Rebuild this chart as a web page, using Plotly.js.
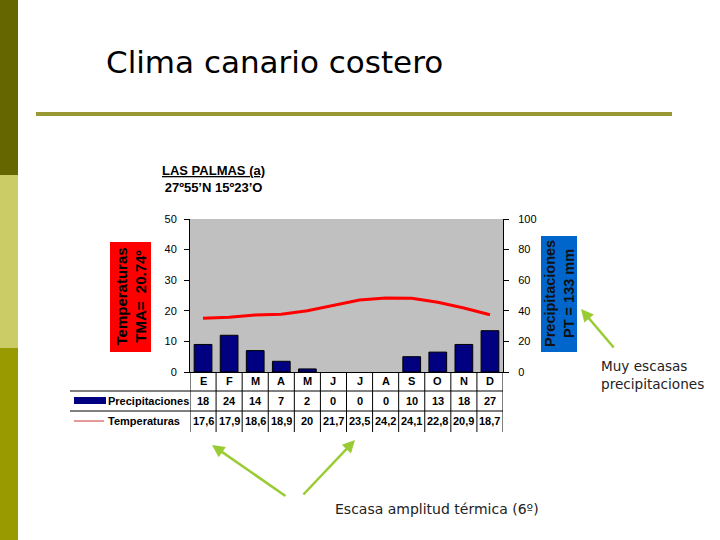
<!DOCTYPE html>
<html>
<head>
<meta charset="utf-8">
<script src="https://cdn.plot.ly/plotly-3.0.1.min.js"></script>
<style>html,body{margin:0;padding:0;background:#fff;}#chart{width:720px;height:540px;}</style>
</head>
<body>
<div id="chart"></div>
<script>
// ---- data ----
const months = ['E','F','M','A','M','J','J','A','S','O','N','D'];
const monthKeys = ['Ene','Feb','Mar','Abr','May','Jun','Jul','Ago','Sep','Oct','Nov','Dic'];
const precipitaciones = [18, 24, 14, 7, 2, 0, 0, 0, 10, 13, 18, 27];
const temperaturas = [17.6, 17.9, 18.6, 18.9, 20, 21.7, 23.5, 24.2, 24.1, 22.8, 20.9, 18.7];
const tempTicks = [0, 10, 20, 30, 40, 50];
const precTicks = [0, 20, 40, 60, 80, 100];

// ---- helpers for pixel -> paper ----
const W = 720, H = 540;
const px = x => x / W;
const py = y => 1 - y / H;

const trPrec = {
  type: 'bar', x: monthKeys, y: precipitaciones, yaxis: 'y2',
  marker: {color: '#000080', line: {color: '#000000', width: precipitaciones.map(v => v > 0 ? 1 : 0)}},
  width: 0.68, hoverinfo: 'y', showlegend: false
};
const trTemp = {
  type: 'scatter', mode: 'lines', x: monthKeys, y: temperaturas, yaxis: 'y',
  line: {color: '#ff0000', width: 3}, showlegend: false
};

const tableFont = {family: 'Liberation Sans, Arial, sans-serif', size: 11, color: '#000'};
const annotations = [];
months.forEach((m, i) => {
  annotations.push({xref: 'x', yref: 'paper', x: i, y: py(381), text: '<b>' + m + '</b>', showarrow: false, font: tableFont, xanchor: 'center', yanchor: 'middle'});
  annotations.push({xref: 'x', yref: 'paper', x: i, y: py(401), text: '<b>' + precipitaciones[i] + '</b>', showarrow: false, font: tableFont, xanchor: 'center', yanchor: 'middle'});
  annotations.push({xref: 'x', yref: 'paper', x: i, y: py(421), text: '<b>' + String(temperaturas[i]).replace('.', ',') + '</b>', showarrow: false, font: tableFont, xanchor: 'center', yanchor: 'middle'});
});
annotations.push(
  {xref: 'paper', yref: 'paper', x: px(106), y: py(401), text: '<b>Precipitaciones</b>', showarrow: false, font: tableFont, xanchor: 'left', yanchor: 'middle'},
  {xref: 'paper', yref: 'paper', x: px(106), y: py(421), text: '<b>Temperaturas</b>', showarrow: false, font: tableFont, xanchor: 'left', yanchor: 'middle'},
  {xref: 'paper', yref: 'paper', x: px(213), y: py(179), text: '<b><u>LAS PALMAS (a)</u></b><br><b>27º55’N 15º23’O</b>', showarrow: false, align: 'center', font: {family: 'Liberation Sans, Arial, sans-serif', size: 13, color: '#000'}, xanchor: 'center', yanchor: 'middle'},
  {xref: 'paper', yref: 'paper', x: px(130.5), y: py(297), text: '<b>Temperaturas<br>TMA=  20.74º</b>', textangle: -90, showarrow: false, align: 'center', font: {family: 'Liberation Sans, Arial, sans-serif', size: 15, color: '#000'}, xanchor: 'center', yanchor: 'middle'},
  {xref: 'paper', yref: 'paper', x: px(559), y: py(294), text: '<b>Precipitaciones<br>PT = 133 mm</b>', textangle: -90, showarrow: false, align: 'center', font: {family: 'Liberation Sans, Arial, sans-serif', size: 14.5, color: '#111'}, xanchor: 'center', yanchor: 'middle'},
  {xref: 'paper', yref: 'paper', x: px(599), y: py(375), text: 'Muy escasas<br>precipitaciones', showarrow: false, align: 'left', font: {family: 'DejaVu Sans, Verdana, sans-serif', size: 13.6, color: '#222'}, xanchor: 'left', yanchor: 'middle'},
  {xref: 'paper', yref: 'paper', x: px(333), y: py(509), text: 'Escasa amplitud térmica (6º)', showarrow: false, font: {family: 'DejaVu Sans, Verdana, sans-serif', size: 14, color: '#222'}, xanchor: 'left', yanchor: 'middle'},
  // arrows
  {xref: 'paper', yref: 'paper', x: px(581), y: py(309), ax: 34, ay: 40, text: '', showarrow: true, arrowhead: 2, arrowsize: 1, arrowwidth: 2.5, arrowcolor: '#99cc33'},
  {xref: 'paper', yref: 'paper', x: px(212), y: py(445), ax: 75, ay: 52, text: '', showarrow: true, arrowhead: 2, arrowsize: 1, arrowwidth: 2.5, arrowcolor: '#99cc33'},
  {xref: 'paper', yref: 'paper', x: px(355), y: py(440), ax: -53, ay: 56, text: '', showarrow: true, arrowhead: 2, arrowsize: 1, arrowwidth: 2.5, arrowcolor: '#99cc33'}
);

const shapes = [
  // left decorative band
  {type: 'rect', xref: 'paper', yref: 'paper', x0: 0, x1: px(18), y0: py(0), y1: py(175), fillcolor: '#666600', line: {width: 0}, layer: 'below'},
  {type: 'rect', xref: 'paper', yref: 'paper', x0: 0, x1: px(18), y0: py(175), y1: py(348), fillcolor: '#cccc66', line: {width: 0}, layer: 'below'},
  {type: 'rect', xref: 'paper', yref: 'paper', x0: 0, x1: px(18), y0: py(348), y1: py(540), fillcolor: '#999900', line: {width: 0}, layer: 'below'},
  // title underline
  {type: 'line', xref: 'paper', yref: 'paper', x0: px(36), x1: px(672), y0: py(114), y1: py(114), line: {color: '#999933', width: 4}},
  // axis title boxes
  {type: 'rect', xref: 'paper', yref: 'paper', x0: px(110), x1: px(151), y0: py(242), y1: py(352), fillcolor: '#ff0000', line: {width: 0}, layer: 'below'},
  {type: 'rect', xref: 'paper', yref: 'paper', x0: px(541), x1: px(577), y0: py(236), y1: py(352), fillcolor: '#0066cc', line: {width: 0}, layer: 'below'},
  // table horizontal lines
  {type: 'line', xref: 'paper', yref: 'paper', x0: px(70), x1: px(503), y0: py(391), y1: py(391), line: {color: '#000', width: 1}},
  {type: 'line', xref: 'paper', yref: 'paper', x0: px(70), x1: px(503), y0: py(411), y1: py(411), line: {color: '#000', width: 1}},
  // legend swatches
  {type: 'rect', xref: 'paper', yref: 'paper', x0: px(74), x1: px(106), y0: py(397), y1: py(404), fillcolor: '#000080', line: {width: 0}},
  {type: 'line', xref: 'paper', yref: 'paper', x0: px(74), x1: px(104), y0: py(421), y1: py(421), line: {color: '#cc3333', width: 1}}
];
for (let i = 0; i <= months.length; i++) {
  shapes.push({type: 'line', xref: 'x', yref: 'paper', x0: i - 0.5, x1: i - 0.5, y0: py(372), y1: py(432), line: {color: '#000', width: 1}});
}

const tickFont = {family: 'Liberation Sans, Arial, sans-serif', size: 11, color: '#000'};
const layout = {
  width: W, height: H,
  margin: {l: 0, r: 0, t: 0, b: 0},
  paper_bgcolor: '#ffffff',
  plot_bgcolor: '#c0c0c0',
  title: {text: 'Clima canario costero', x: px(106), xanchor: 'left', xref: 'paper', y: py(62), yref: 'container', yanchor: 'middle', font: {family: 'DejaVu Sans, Verdana, sans-serif', size: 31, color: '#000'}},
  showlegend: false,
  xaxis: {domain: [px(190), px(503)], type: 'category', range: [-0.5, 11.5], showticklabels: false, ticks: '', showgrid: false, showline: true, linecolor: '#000', linewidth: 1, zeroline: false, fixedrange: true},
  yaxis: {domain: [py(372), py(219)], range: [0, 50], tickvals: tempTicks, ticks: 'outside', ticklen: 5, tickcolor: '#000', showgrid: false, showline: true, linecolor: '#000', linewidth: 1, zeroline: false, tickfont: tickFont, ticklabelstandoff: 5},
  yaxis2: {domain: [py(372), py(219)], range: [0, 100], tickvals: precTicks, overlaying: 'y', side: 'right', anchor: 'x', ticks: 'outside', ticklen: 5, tickcolor: '#000', showgrid: false, showline: true, linecolor: '#000', linewidth: 1, zeroline: false, tickfont: tickFont, ticklabelstandoff: 7},
  annotations: annotations,
  shapes: shapes
};

Plotly.newPlot('chart', [trPrec, trTemp], layout, {displayModeBar: false, staticPlot: true});
</script>
</body>
</html>
